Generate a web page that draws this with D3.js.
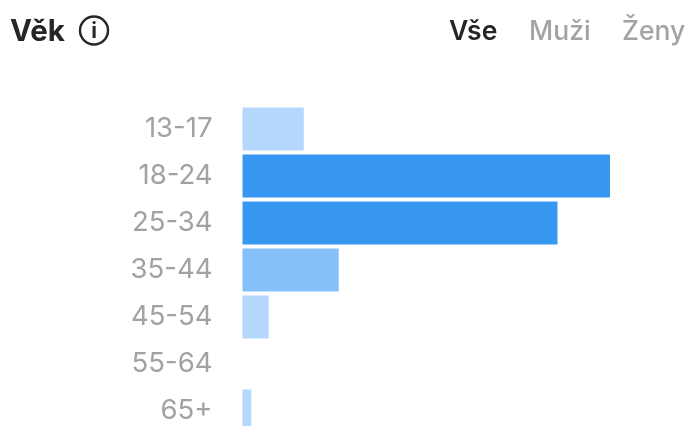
<!DOCTYPE html>
<html><head><meta charset="utf-8">
<script src="https://cdn.jsdelivr.net/npm/d3@7/dist/d3.min.js"></script>
<style>
html,body{margin:0;padding:0;background:#fff;overflow:hidden}
svg{display:block;filter:blur(0.6px)}
text{font-family:Inter,"Noto Sans",sans-serif}
</style></head><body>
<script>
const categories=["13-17","18-24","25-34","35-44","45-54","55-64","65+"];
const values=[7,42,36,11,3,0,1];
const barColors=["#b3d7fd","#3897f0","#3897f0","#85c0fb","#b3d7fd","#b3d7fd","#b3d7fd"];
const title="Věk";
const tabs=["Vše","Muži","Ženy"];
const tabColors=["#262626","#a3a3a3","#a3a3a3"];
const tabX=[449,529,622];

const W=689,H=426;
const svg=d3.select("body").append("svg").attr("width",W).attr("height",H);
const x=d3.scaleLinear().domain([0,42]).range([242.5,610]);
const y=d3.scaleBand().domain(categories).range([107.5,432.5]).paddingInner(4/47).paddingOuter(0);

svg.append("g").selectAll("rect").data(values).join("rect")
  .attr("x",x(0)).attr("y",(d,i)=>y(categories[i]))
  .attr("width",d=>x(d)-x(0)).attr("height",y.bandwidth())
  .attr("fill",(d,i)=>barColors[i]);

const axis=d3.axisLeft(y).tickSize(0).tickPadding(30);
const g=svg.append("g").attr("transform",`translate(${x(0)},-0.8)`).call(axis);
g.select(".domain").remove();
g.selectAll("text").attr("font-size",27.5).attr("font-family","Roboto,sans-serif").attr("font-weight",400).attr("fill","#a2a2a2");

svg.append("text").text(title).attr("x",10).attr("y",41).attr("font-size",29.5).attr("font-weight",700).attr("fill","#262626");
const ic=svg.append("g").attr("transform","translate(94,30.5)");
ic.append("circle").attr("r",14).attr("fill","none").attr("stroke","#262626").attr("stroke-width",2.4);
ic.append("text").text("i").attr("text-anchor","middle").attr("y",7.5).attr("font-size",21).attr("font-weight",700).attr("fill","#262626").attr("font-family","'DejaVu Serif',serif");

svg.append("g").selectAll("text").data(tabs).join("text")
  .text(d=>d).attr("x",(d,i)=>tabX[i]).attr("y",40)
  .attr("font-size",26.5).attr("font-weight",(d,i)=>i===0?600:500)
  .attr("fill",(d,i)=>tabColors[i]);
</script></body></html>
